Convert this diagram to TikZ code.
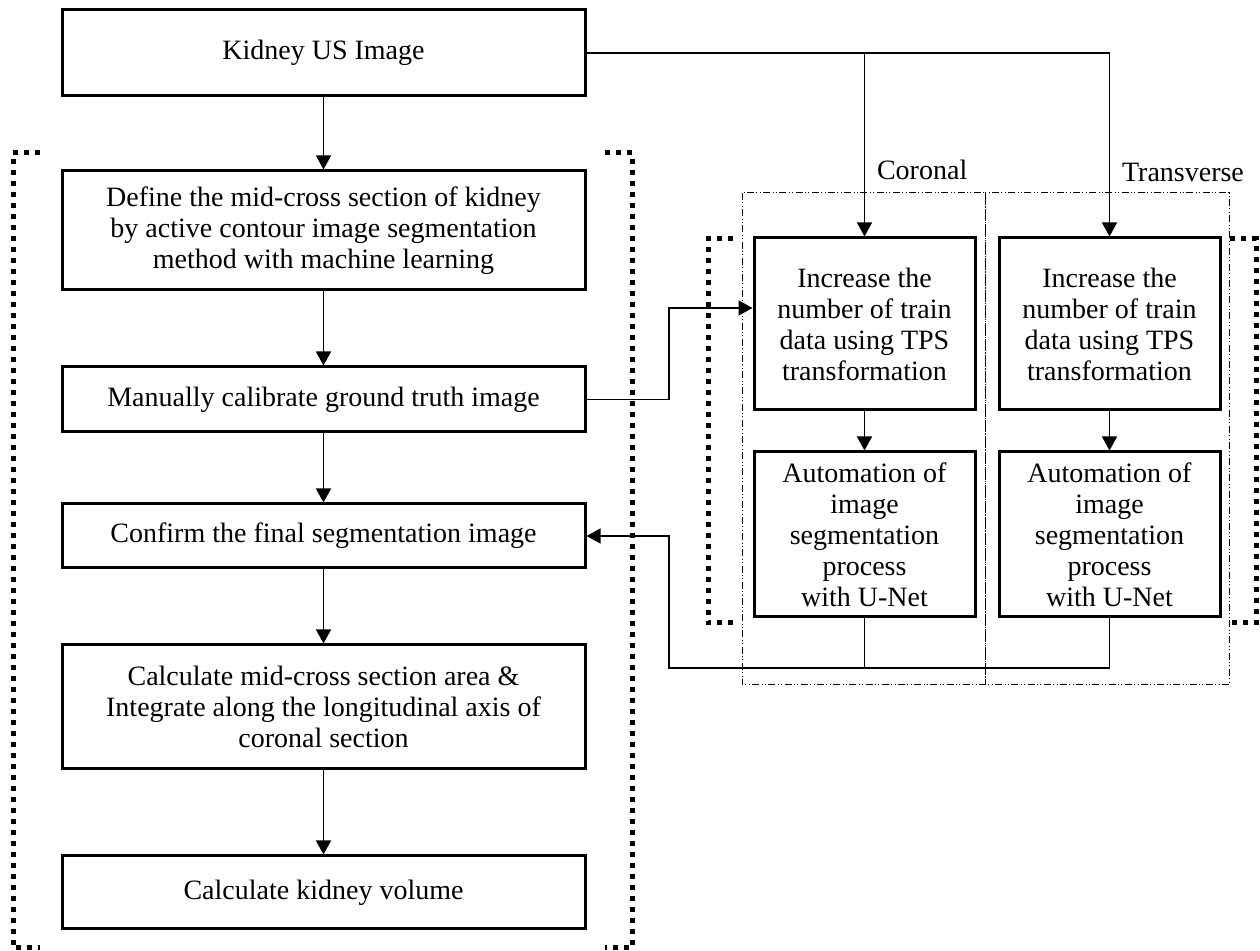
\documentclass[tikz,border=0pt]{standalone}
\usepackage{fontspec}
\setmainfont{Liberation Serif}
\usetikzlibrary{arrows.meta, calc}

\begin{document}
\begin{tikzpicture}[x=0.5pt,y=-0.5pt,font=\fontsize{14}{15.5}\selectfont,box/.style={draw,line width=1.5pt,align=center,inner sep=0pt,minimum width=261.5pt},sidebox/.style={draw,line width=1.5pt,align=center,inner sep=0pt,minimum width=110.5pt},arrow/.style={-{Triangle[length=7pt,width=7.5pt]},line width=0.7pt},link/.style={line width=0.7pt},dotbracket/.style={line width=2.5pt,dash pattern=on 2.5pt off 3pt},frame/.style={line width=0.5pt,dash pattern=on 3.5pt off 1.2pt on 0.5pt off 1.2pt on 0.5pt off 1.2pt}]
\useasboundingbox (0,0) rectangle (1260,951);
\node[box,minimum height=43pt] (kidney) at (323.5,53){Kidney US Image};
\node[box,minimum height=59.5pt] (define) at (323.5,230.5){Define the mid-cross section of kidney\\by active contour image segmentation\\method with machine learning};
\node[box,minimum height=32.5pt] (calib) at (323.5,399.5){Manually calibrate ground truth image};
\node[box,minimum height=32pt] (confirm) at (323.5,536){Confirm the final segmentation image};
\node[box,minimum height=62pt] (area) at (323.5,707){Calculate mid-cross section area \&\\Integrate along the longitudinal axis of\\coronal section};
\node[box,minimum height=36.5pt] (volume) at (323.5,892.5){Calculate kidney volume};
\node[sidebox,minimum height=86pt] (incC) at (864.5,324){Increase the\\number of train\\data using TPS\\transformation};
\node[sidebox,minimum height=82.5pt] (autoC) at (864.5,534.5){Automation of\\image\\segmentation\\process\\with U-Net};
\node[sidebox,minimum height=86pt] (incT) at (1109.5,324){Increase the\\number of train\\data using TPS\\transformation};
\node[sidebox,minimum height=82.5pt] (autoT) at (1109.5,534.5){Automation of\\image\\segmentation\\process\\with U-Net};
\node[anchor=west] (coronal) at (870,170){Coronal};
\node[anchor=west] (transverse) at (1115,172){Transverse};
\draw[frame] (742,193) rectangle (985,685);\draw[frame] (985,193) rectangle (1229,685);
\draw[dotbracket] (40,153) -- (13,153) -- (13,948) -- (40,948);\draw[dotbracket] (605,153) -- (632,153) -- (632,948) -- (605,948);
\draw[dotbracket] (733,239) -- (708,239) -- (708,623) -- (733,623);\draw[dotbracket] (1230,239) -- (1256,239) -- (1256,623) -- (1230,623);
\draw[arrow] (kidney) -- (define);\draw[arrow] (define) -- (calib);\draw[arrow] (calib) -- (confirm);\draw[arrow] (confirm) -- (area);\draw[arrow] (area) -- (volume);
\draw[arrow] (kidney.east) -| (incT.north);\draw[arrow] (kidney.east -| incC.north) -- (incC.north);
\draw[arrow] (incC) -- (autoC);\draw[arrow] (incT) -- (autoT);
\coordinate (upbend) at (669,308);\coordinate (lowbend) at (669,668);
\draw[arrow] (calib.east) -| (upbend) -- (upbend -| incC.west);
\draw[arrow] (autoT.south) |- (lowbend) |- (confirm.east);\draw[link] (autoC.south) -- (autoC.south |- lowbend);
\end{tikzpicture}
\end{document}
